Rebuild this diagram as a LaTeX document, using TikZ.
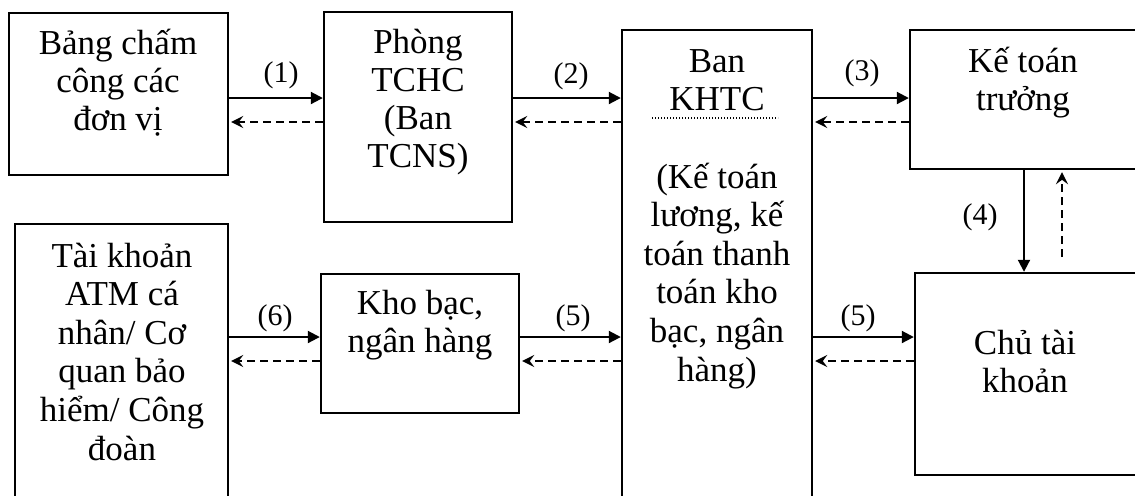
\documentclass[tikz,border=0pt]{standalone}
\usepackage{fontspec}
\setmainfont{Liberation Serif}
\usetikzlibrary{arrows.meta,fit}
\begin{document}
\begin{tikzpicture}[x=0.5pt,y=-0.5pt,
  box/.style={draw, line width=1.2pt, inner sep=0pt},
  txt/.style={font=\fontsize{17.5}{19}\selectfont, align=center, inner sep=0pt, anchor=base},
  lbl/.style={font=\fontsize{15}{18}\selectfont, inner sep=0pt, anchor=base},
  sarrow/.style={line width=1pt, -{Triangle[length=6pt,width=6pt]}},
  darrow/.style={line width=0.9pt, dash pattern=on 4pt off 2.5pt, -{Stealth[length=6pt,width=6pt,inset=2.2pt]}, shorten >=1pt}]
\useasboundingbox (0,0) rectangle (1135,495);
\clip (0,0) rectangle (1135,495);
% boxes
\node[box, fit={(9,13) (228,175)}] (b1) {};
\node[box, fit={(324,12) (512,222)}] (phong) {};
\node[box, fit={(622,30) (812,510)}] (khtc) {};
\node[box, fit={(910,30) (1145,169)}] (ktt) {};
\node[box, fit={(915,273) (1145,475)}] (ctk) {};
\node[box, fit={(15,224) (228,510)}] (atm) {};
\node[box, fit={(321,274) (519,413)}] (kho) {};
% texts (anchor = baseline of last line)
\node[txt] (t1) at (118,130) {Bảng chấm\\công các\\đơn vị};
\node[txt] (t2) at (418,167) {Phòng\\TCHC\\(Ban\\TCNS)};
\node[txt] (t3) at (717,110) {Ban\\KHTC};
\node[txt, font=\fontsize{17.5}{19.3}\selectfont] (t3b) at (717,381) {(Kế toán\\lương, kế\\toán thanh\\toán kho\\bạc, ngân\\hàng)};
\node[txt] (t4) at (1023,110) {Kế toán\\trưởng};
\node[txt] (t5) at (1025,392) {Chủ tài\\khoản};
\node[txt, font=\fontsize{17.5}{19.3}\selectfont] (t6) at (122,460) {Tài khoản\\ATM cá\\nhân/ Cơ\\quan bảo\\hiểm/ Công\\đoàn};
\node[txt] (t7) at (420,352) {Kho bạc,\\ngân hàng};
\draw[line width=0.6pt, dash pattern=on 0.6pt off 0.9pt] (652,118) -- (778,118);
% levels
\coordinate (ya) at (0,98);
\coordinate (yad) at (0,122);
\coordinate (yb) at (0,337);
\coordinate (ybd) at (0,361);
\coordinate (x4) at (1024,0);
\coordinate (x4d) at (1062,257);
% arrows
\draw[sarrow] (b1.east |- ya) -- (phong.west |- ya);
\draw[darrow] (phong.west |- yad) -- (b1.east |- yad);
\draw[sarrow] (phong.east |- ya) -- (khtc.west |- ya);
\draw[darrow] (khtc.west |- yad) -- (phong.east |- yad);
\draw[sarrow] (khtc.east |- ya) -- (ktt.west |- ya);
\draw[darrow] (ktt.west |- yad) -- (khtc.east |- yad);
\draw[sarrow] (ktt.south -| x4) -- (ctk.north -| x4);
\draw[darrow] (x4d) -- (ktt.south -| x4d);
\draw[sarrow] (atm.east |- yb) -- (kho.west |- yb);
\draw[darrow] (kho.west |- ybd) -- (atm.east |- ybd);
\draw[sarrow] (kho.east |- yb) -- (khtc.west |- yb);
\draw[darrow] (khtc.west |- ybd) -- (kho.east |- ybd);
\draw[sarrow] (khtc.east |- yb) -- (ctk.west |- yb);
\draw[darrow] (ctk.west |- ybd) -- (khtc.east |- ybd);
% labels
\node[lbl] (l1) at (281,82) {(1)};
\node[lbl] (l2) at (571,83) {(2)};
\node[lbl] (l3) at (862,80) {(3)};
\node[lbl] (l4) at (980,224) {(4)};
\node[lbl] (l6) at (275,325) {(6)};
\node[lbl] (l5a) at (573,325) {(5)};
\node[lbl] (l5b) at (858,325) {(5)};
\end{tikzpicture}
\end{document}
